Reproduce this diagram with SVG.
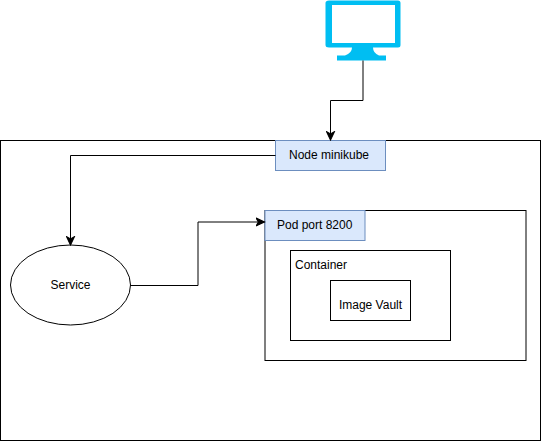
<svg xmlns="http://www.w3.org/2000/svg" width="541" height="441" viewBox="0 0 541 441">
<style>
.b{fill:#fff;stroke:#000;stroke-width:1}
.h{fill:#dae8fc;stroke:#6c8ebf;stroke-width:1}
.c{fill:none;stroke:#000;stroke-width:1}
text{font-family:"Liberation Sans",Arial,sans-serif;font-size:12px;fill:#000}
</style>
<defs>
<marker id="a" markerUnits="userSpaceOnUse" markerWidth="10" markerHeight="10" refX="8" refY="4" orient="auto" viewBox="0 0 9 8">
<path d="M0.5 0.5L8 4L0.5 7.5L2.5 4Z" fill="#000" stroke="#000"/>
</marker>
</defs>
<rect width="541" height="441" fill="#fff"/>
<g id="node-minikube-frame"><rect class="b" x="0.5" y="140.500" width="540" height="300"/></g>
<g id="pod-frame"><rect class="b" x="265" y="210.500" width="261" height="150"/></g>
<g id="container"><rect class="b" x="290.500" y="250.500" width="160" height="90"/><text x="295" y="269">Container</text></g>
<g id="image-vault"><rect class="b" x="330.500" y="280.500" width="80" height="40"/><text x="370.500" y="309" text-anchor="middle">Image Vault</text></g>
<g id="node-minikube"><rect class="h" x="275.500" y="140.500" width="110" height="30"/><text x="289" y="159">Node minikube</text></g>
<g id="pod-port"><rect class="h" x="265" y="210.500" width="100" height="30"/><text x="277" y="229">Pod port 8200</text></g>
<g id="service"><ellipse class="b" cx="70.500" cy="285" rx="60" ry="40"/><text x="70.500" y="289" text-anchor="middle">Service</text></g>
<g id="monitor">
<path fill-rule="evenodd" fill="#00bef2" d="M329 0.500H398Q400.500 0.500 400.500 3V45Q400.500 47.500 398 47.500H373Q373 53 379 55.500H386V60.500H337V55.500H345Q352 53 352 47.500H329Q325.500 47.500 325.500 45V3Q325.500 0.500 329 0.500ZM332 5V43H395V5Z"/>
</g>
<g id="connectors">
<path class="c" d="M363 60.500V100.500H330.500V140" marker-end="url(#a)"/>
<path class="c" d="M275.500 155.500H70.500V245" marker-end="url(#a)"/>
<path class="c" d="M130.500 285.500H198V222H264.500" marker-end="url(#a)"/>
</g>
</svg>
